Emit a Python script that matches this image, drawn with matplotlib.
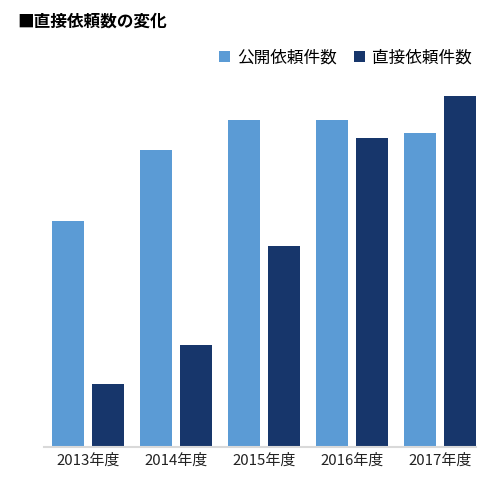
import matplotlib
matplotlib.use('Agg')
from matplotlib import pyplot as plt
import numpy as np

plt.rcParams['font.family'] = ['Noto Sans CJK JP', 'DejaVu Sans']

years = ['2013年度', '2014年度', '2015年度', '2016年度', '2017年度']
public_req = [226, 297, 327, 327, 314]   # 公開依頼件数
direct_req = [63, 102, 201, 309, 351]    # 直接依頼件数

W, H = 496, 480
fig = plt.figure(figsize=(W / 100, H / 100), dpi=100)
ax = fig.add_axes([44 / W, 33 / H, (476 - 44) / W, (447 - 60) / H])

x = np.arange(len(years))
w = 32 / 88
off = 20 / 88
b1 = ax.bar(x - off, public_req, width=w, color='#5B9BD5', label='公開依頼件数')
b2 = ax.bar(x + off, direct_req, width=w, color='#17366B', label='直接依頼件数')

ax.set_xlim(-0.5, 4.41)
ax.set_ylim(0, 387)
ax.set_xticks(x)
ax.set_xticklabels(years, fontsize=10.8, color='#222222')
ax.tick_params(axis='x', length=0, pad=5)
ax.set_yticks([])
for s in ['top', 'right', 'left']:
    ax.spines[s].set_visible(False)
ax.spines['bottom'].set_color('#D9D9D9')
ax.spines['bottom'].set_linewidth(1.5)

fig.text(17 / W, 1 - 22 / H, '■直接依頼数の変化', fontsize=12, fontweight='bold',
         va='center', ha='left')

fig.legend(handles=[b1, b2], loc='center left', bbox_to_anchor=(219 / W, 1 - 58 / H),
           ncol=2, frameon=False, fontsize=12, handlelength=0.65, handleheight=0.65,
           handletextpad=0.45, columnspacing=1.0, borderpad=0, borderaxespad=0)

fig.savefig('out.png', dpi=100)
